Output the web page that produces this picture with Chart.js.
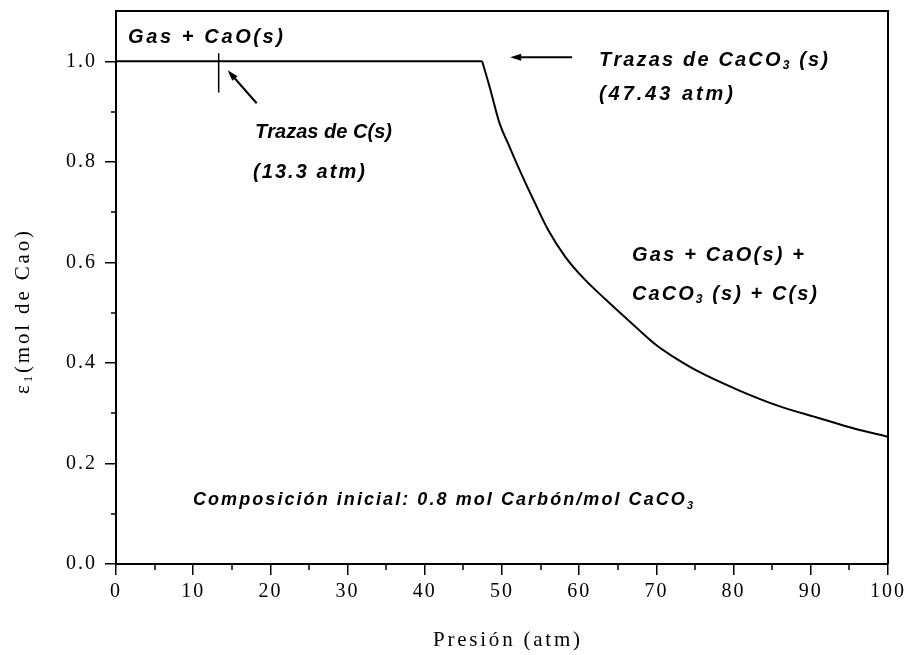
<!DOCTYPE html>
<html>
<head>
<meta charset="utf-8">
<script src="https://cdn.jsdelivr.net/npm/chart.js@4.4.1/dist/chart.umd.min.js"></script>
<style>
html,body{margin:0;padding:0;background:#fff;}
#wrap{width:907px;height:655px;position:relative;}
</style>
</head>
<body>
<div id="wrap"><canvas id="c" width="907" height="655"></canvas></div>
<script>
// ---- data ----
const pressure = [0, 13.3, 47.43, 48.4, 49.7, 50.8, 52.3, 54.3, 56.0, 58.2, 60.4, 63.5, 67.0, 70.1, 72.0, 75.3, 80.6, 85.9, 91.1, 95.5, 100];
const extent   = [1.0, 1.0, 1.0, 0.949, 0.876, 0.836, 0.783, 0.717, 0.664, 0.611, 0.571, 0.525, 0.476, 0.434, 0.414, 0.384, 0.346, 0.314, 0.290, 0.270, 0.253];
const breakIndex = 2; // 47.43 atm: trazas de CaCO3
const markX = [13.3, 13.3];
const markY = [1.016, 0.938];
const xTicks = [0, 10, 20, 30, 40, 50, 60, 70, 80, 90, 100];
const xMinor = [5, 15, 25, 35, 45, 55, 65, 75, 85, 95];
const yTicks = [0.0, 0.2, 0.4, 0.6, 0.8, 1.0];
const yMinor = [0.1, 0.3, 0.5, 0.7, 0.9];
const xTitle = "Presión (atm)";
const yTitle = [["ε", false], ["1", true], ["(mol de Cao)", false]];
const notes = [
  {segs: [["Gas + CaO(s)", false]], x0: 128, x1: 283, y: 37, size: 20},
  {segs: [["Trazas de C(s)", false]], x0: 255, x1: 392, y: 132, size: 20},
  {segs: [["(13.3 atm)", false]], x0: 253, x1: 365, y: 172, size: 20},
  {segs: [["Trazas de CaCO", false], ["3", true], [" (s)", false]], x0: 599, x1: 828, y: 60, size: 20},
  {segs: [["(47.43 atm)", false]], x0: 599, x1: 733, y: 94, size: 20},
  {segs: [["Gas + CaO(s) +", false]], x0: 632, x1: 804, y: 255, size: 20},
  {segs: [["CaCO", false], ["3", true], [" (s) + C(s)", false]], x0: 632, x1: 817, y: 294, size: 20},
  {segs: [["Composición inicial: 0.8 mol Carbón/mol CaCO", false], ["3", true]], x0: 193, x1: 693, y: 500, size: 18}
];

function drawSpaced(ctx, segs, x0, x1, y, font, subFont, subDy) {
  const chars = [];
  segs.forEach(([t, sub]) => { for (const ch of t) chars.push([ch, sub]); });
  let nat = 0;
  const widths = chars.map(([ch, sub]) => { ctx.font = sub ? subFont : font; const w = ctx.measureText(ch).width; nat += w; return w; });
  const sp = chars.length > 1 ? (x1 - x0 - nat) / (chars.length - 1) : 0;
  let x = x0;
  ctx.textAlign = 'left';
  ctx.textBaseline = 'middle';
  chars.forEach(([ch, sub], i) => {
    ctx.font = sub ? subFont : font;
    ctx.fillText(ch, x, sub ? y + subDy : y);
    x += widths[i] + sp;
  });
}

function arrow(ctx, x1, y1, x2, y2) { // from tail (x1,y1) to head (x2,y2)
  const a = Math.atan2(y2 - y1, x2 - x1);
  const L = 11, W = 3.5;
  ctx.beginPath();
  ctx.moveTo(x1, y1);
  ctx.lineTo(x2 - L * 0.6 * Math.cos(a), y2 - L * 0.6 * Math.sin(a));
  ctx.lineWidth = 2;
  ctx.stroke();
  ctx.beginPath();
  ctx.moveTo(x2, y2);
  ctx.lineTo(x2 - L * Math.cos(a) + W * Math.sin(a), y2 - L * Math.sin(a) - W * Math.cos(a));
  ctx.lineTo(x2 - L * Math.cos(a) - W * Math.sin(a), y2 - L * Math.sin(a) + W * Math.cos(a));
  ctx.closePath();
  ctx.fill();
}

const decor = {
  id: 'decor',
  beforeDraw(chart) { chart.ctx.letterSpacing = '2px'; },
  afterDraw(chart) {
    const ctx = chart.ctx;
    const a = chart.chartArea;
    const xs = chart.scales.x, ys = chart.scales.y;
    ctx.save();
    ctx.letterSpacing = '0px';
    ctx.strokeStyle = '#000';
    ctx.fillStyle = '#000';
    // frame top & right
    ctx.lineWidth = 2;
    ctx.beginPath();
    ctx.moveTo(a.left, a.top); ctx.lineTo(a.right, a.top); ctx.lineTo(a.right, a.bottom);
    ctx.stroke();
    // minor ticks
    ctx.lineWidth = 1.5;
    yMinor.forEach(v => { const p = Math.round(ys.getPixelForValue(v)); ctx.beginPath(); ctx.moveTo(a.left - 5, p); ctx.lineTo(a.left, p); ctx.stroke(); });
    xMinor.forEach(v => { const p = Math.round(xs.getPixelForValue(v)); ctx.beginPath(); ctx.moveTo(p, a.bottom); ctx.lineTo(p, a.bottom + 6); ctx.stroke(); });
    // arrows
    const mx = xs.getPixelForValue(13.3), my = ys.getPixelForValue(1.0);
    arrow(ctx, mx + 38, my + 42, mx + 9, my + 9);
    const cx = xs.getPixelForValue(47.43);
    arrow(ctx, cx + 90, my - 4, cx + 28, my - 4);
    // annotations
    notes.forEach(n => {
      drawSpaced(ctx, n.segs, n.x0, n.x1, n.y,
        `italic bold ${n.size}px "Liberation Sans", Arial, sans-serif`,
        `italic bold ${Math.round(n.size * 0.62)}px "Liberation Sans", Arial, sans-serif`, 6);
    });
    // axis titles
    drawSpaced(ctx, [[xTitle, false]], 433, 580, 640, '21px "Liberation Serif", "Times New Roman", serif', '13px "Liberation Serif", serif', 5);
    ctx.translate(23, 312);
    ctx.rotate(-Math.PI / 2);
    drawSpaced(ctx, yTitle, -82, 81, 0, '21px "Liberation Serif", "Times New Roman", serif', '13px "Liberation Serif", serif', 6);
    ctx.restore();
  }
};

const points = pressure.map((p, i) => ({x: p, y: extent[i]}));
const flatPart = points.slice(0, breakIndex + 1);
const curvePart = points.slice(breakIndex);
const mark = markX.map((p, i) => ({x: p, y: markY[i]}));

new Chart(document.getElementById('c'), {
  type: 'line',
  data: {
    datasets: [
      {data: flatPart, borderColor: '#000', borderWidth: 2, pointRadius: 0, tension: 0, fill: false},
      {data: curvePart, borderColor: '#000', borderWidth: 2, pointRadius: 0, cubicInterpolationMode: 'monotone', fill: false},
      {data: mark, borderColor: '#000', borderWidth: 1.5, pointRadius: 0, tension: 0, fill: false}
    ]
  },
  options: {
    responsive: false,
    animation: false,
    events: [],
    layout: {padding: {top: 11, right: 19, left: 0, bottom: 0}},
    plugins: {legend: {display: false}, tooltip: {enabled: false}},
    scales: {
      x: {
        type: 'linear', min: 0, max: 100,
        afterBuildTicks: s => { s.ticks = xTicks.map(v => ({value: v})); },
        afterFit: s => { s.height = 91; s.paddingLeft = 0; s.paddingRight = 0; },
        border: {display: true, color: '#000', width: 2},
        grid: {drawOnChartArea: false, drawTicks: true, tickLength: 11, color: '#000', lineWidth: 1.5},
        ticks: {color: '#000', padding: 5, maxRotation: 0, autoSkip: false,
                font: {family: '"Liberation Serif", "Times New Roman", serif', size: 20},
                callback: v => String(v)}
      },
      y: {
        type: 'linear', min: 0, max: 1.1,
        afterBuildTicks: s => { s.ticks = yTicks.map(v => ({value: v})); },
        afterFit: s => { s.width = 116; s.paddingTop = 0; s.paddingBottom = 0; },
        border: {display: true, color: '#000', width: 2},
        grid: {drawOnChartArea: false, drawTicks: true, tickLength: 11, color: '#000', lineWidth: 1.5},
        ticks: {color: '#000', padding: 8, autoSkip: false,
                font: {family: '"Liberation Serif", "Times New Roman", serif', size: 20},
                callback: v => Number(v).toFixed(1)}
      }
    }
  },
  plugins: [decor]
});
</script>
</body>
</html>
